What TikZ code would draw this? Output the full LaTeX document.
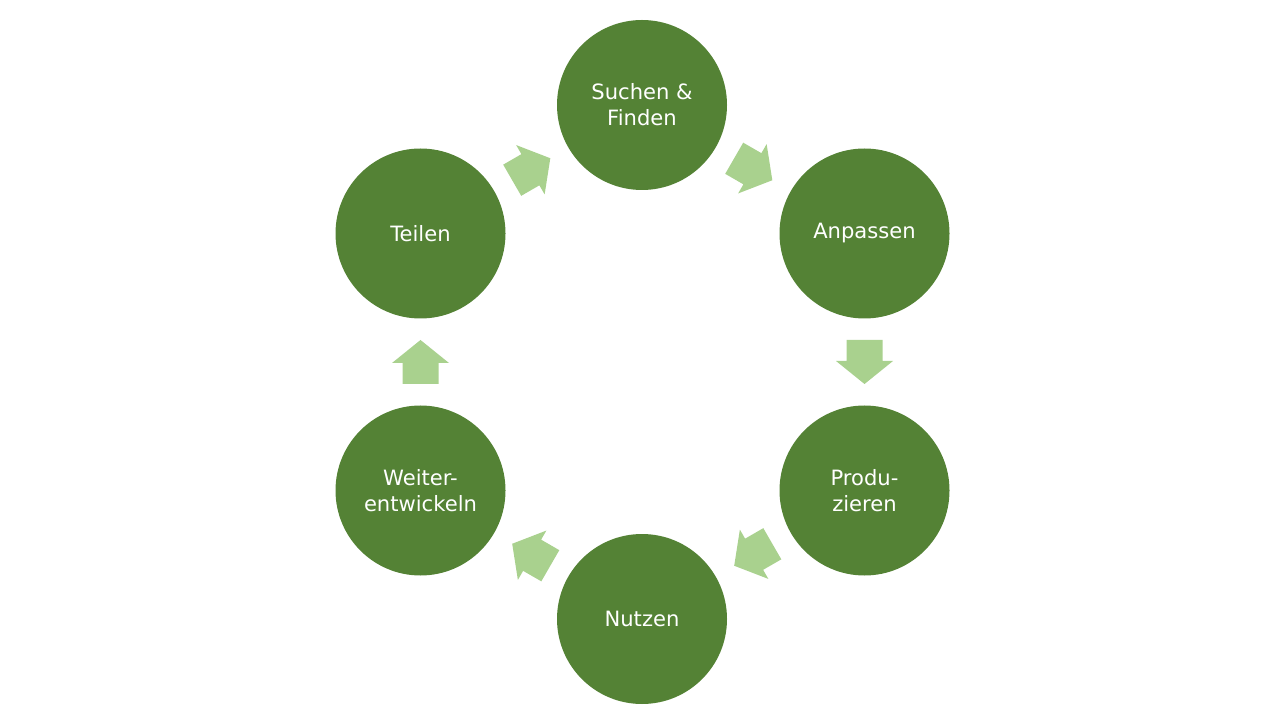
\documentclass[tikz,border=0pt]{standalone}
\usepackage{fontspec}
\setmainfont{DejaVu Sans}
\usetikzlibrary{calc}
\definecolor{cdark}{HTML}{548235}
\definecolor{clight}{HTML}{A9D18E}
\tikzset{
  stage/.style={circle, fill=cdark, draw=none, minimum size=170*0.025cm, inner sep=0pt,
    text=white, align=center, font=\fontsize{15pt}{18.5pt}\selectfont},
  blockarrow/.style={fill=clight, draw=none}
}
\newcommand\cyclearrow[3]{%
  \begin{scope}[shift={($(#1)!0.5!(#2)$)}, rotate=#3]
    \fill[blockarrow] (-22,-18) -- (-1,-18) -- (-1,-28.5) -- (22,0) -- (-1,28.5) -- (-1,18) -- (-22,18) -- cycle;
  \end{scope}}
\begin{document}
\begin{tikzpicture}[x=0.025cm, y=-0.025cm]
\useasboundingbox (0,0) rectangle (1280,720);
\node[stage] (s) at (642,105) {Suchen \&\\Finden};
\node[stage] (a) at (864.5,233.5) {Anpassen};
\node[stage] (p) at (864.5,490.5) {Produ-\\zieren};
\node[stage] (n) at (642,619) {Nutzen};
\node[stage] (w) at (420.5,490.5) {Weiter-\\entwickeln};
\node[stage] (t) at (420.5,233.5) {Teilen};
\cyclearrow{s}{a}{-30}
\cyclearrow{a}{p}{-90}
\cyclearrow{p}{n}{-150}
\cyclearrow{n}{w}{150}
\cyclearrow{w}{t}{90}
\cyclearrow{t}{s}{30}
\end{tikzpicture}
\end{document}
